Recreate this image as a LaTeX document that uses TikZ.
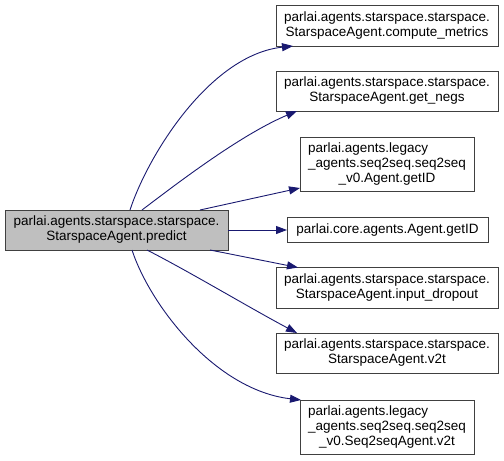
\documentclass[tikz,border=0pt]{standalone}
\usepackage{fontspec}
\setmainfont{Liberation Sans}
\usetikzlibrary{arrows.meta,calc}
\definecolor{edgeblue}{HTML}{191970}
\definecolor{nodeborder}{HTML}{404040}
\definecolor{rootfill}{HTML}{BFBFBF}
\tikzset{
  fn/.style={draw=nodeborder, line width=1pt, fill=white, inner sep=0pt, outer sep=0pt,
    font=\fontsize{13.5}{15}\selectfont, align=center},
  root/.style={fn, fill=rootfill},
  call/.style={draw=edgeblue, line width=0.9pt, -{Triangle[length=11pt,width=8pt]}},
}
\begin{document}
\begin{tikzpicture}[x=1pt,y=-1pt]
\useasboundingbox (0,0) rectangle (504,461);
\node[root, minimum width=223pt, minimum height=40pt] (pred) at (116.5,230)
  {parlai.agents.starspace.starspace.\\StarspaceAgent.predict};
\node[fn, minimum width=222pt, minimum height=41pt] (m1) at (387,25.5)
  {parlai.agents.starspace.starspace.\\StarspaceAgent.compute\_metrics};
\node[fn, minimum width=222pt, minimum height=40pt] (m2) at (387,91)
  {parlai.agents.starspace.starspace.\\StarspaceAgent.get\_negs};
\node[fn, minimum width=174pt, minimum height=54pt] (m3) at (387,164)
  {\begin{tabular}{@{}l@{}}parlai.agents.legacy\\\_agents.seq2seq.seq2seq\\\multicolumn{1}{@{}c@{}}{\_v0.Agent.getID}\end{tabular}};
\node[fn, minimum width=201pt, minimum height=25pt] (m4) at (387.5,230)
  {parlai.core.agents.Agent.getID};
\node[fn, minimum width=222pt, minimum height=41pt] (m5) at (387,288)
  {parlai.agents.starspace.starspace.\\StarspaceAgent.input\_dropout};
\node[fn, minimum width=222pt, minimum height=40pt] (m6) at (387,353)
  {parlai.agents.starspace.starspace.\\StarspaceAgent.v2t};
\node[fn, minimum width=174pt, minimum height=54pt] (m7) at (387,427)
  {\begin{tabular}{@{}l@{}}parlai.agents.legacy\\\_agents.seq2seq.seq2seq\\\multicolumn{1}{@{}c@{}}{\_v0.Seq2seqAgent.v2t}\end{tabular}};
% connectors
\draw[call] ($(pred.north west)+(125,0)$) .. controls (148,155) and (210,55) .. ($(m1.south west)+(17,0)$);
\draw[call] ($(pred.north west)+(137,0)$) .. controls (175,185) and (240,135) .. ($(m2.south west)+(21,0)$);
\draw[call] ($(pred.north west)+(195,0)$) -- ($(m3.south west)+(0,-3)$);
\draw[call] (pred.east) -- (m4.west);
\draw[call] ($(pred.south west)+(205,0)$) -- ($(m5.north west)+(22,0)$);
\draw[call] ($(pred.south west)+(142,0)$) .. controls (190,272) and (250,308) .. ($(m6.north west)+(21,0)$);
\draw[call] ($(pred.south west)+(127,0)$) .. controls (150,305) and (215,390) .. ($(m7.north west)+(1,0)$);
\end{tikzpicture}
\end{document}
